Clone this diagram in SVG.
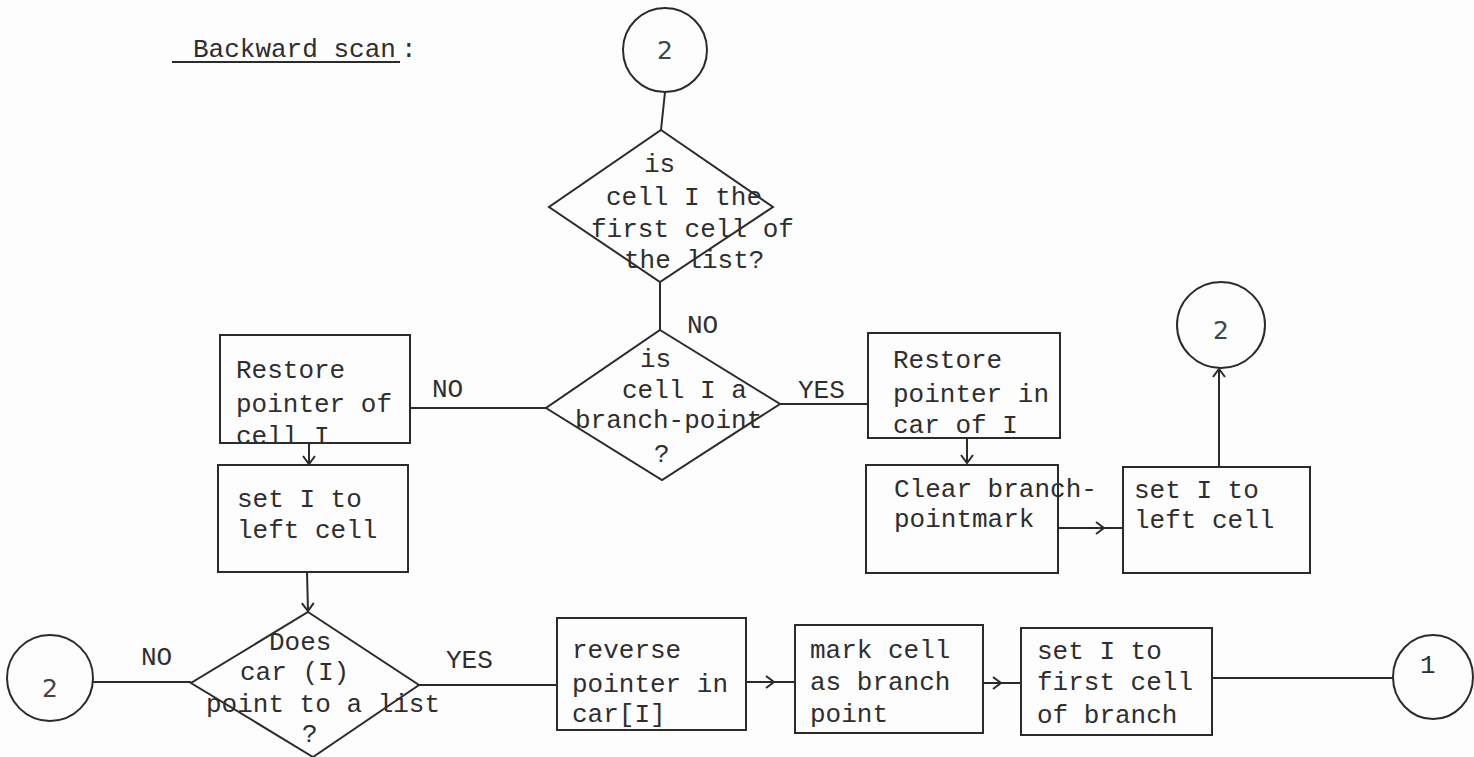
<svg xmlns="http://www.w3.org/2000/svg" width="1474" height="757" viewBox="0 0 1474 757">
<style>
.bg{fill:#fdfdfd}
.s{fill:none;stroke:#2b2b2b;stroke-width:2}
.t{font-family:"Liberation Mono",monospace;font-size:26px;fill:#2e2e2e}
.lbl{font-family:"Liberation Mono",monospace;font-size:26px;fill:#2e2e2e}
.num{font-family:"DejaVu Sans","Liberation Sans",sans-serif;font-size:25px;fill:#444;text-anchor:middle}
</style>
<defs>
<marker id="ah" markerWidth="14" markerHeight="14" refX="10" refY="7" orient="auto" markerUnits="userSpaceOnUse">
<polyline points="2,1 10,7 2,13" fill="none" stroke="#2b2b2b" stroke-width="2"/>
</marker>
</defs>
<rect class="bg" x="0" y="0" width="1474" height="757"/>

<g id="title">
<text class="t" x="193" y="57">Backward scan<tspan x="401">:</tspan></text>
<line class="s" x1="172" y1="62" x2="400" y2="62" stroke-width="2.5"/>
</g>

<g id="c2top">
<ellipse class="s" cx="665" cy="50" rx="42" ry="42"/>
<text class="num" x="665" y="59">2</text>
</g>

<g id="d1">
<polygon class="s" points="661,130 773,207 660,282 549,207"/>
<text class="t" x="644" y="172">is</text>
<text class="t" x="606" y="205">cell I the</text>
<text class="t" x="591" y="237">first cell of</text>
<text class="t" x="624" y="268">the list?</text>
</g>

<g id="d2">
<polygon class="s" points="660,330 780,404 662,480 546,408"/>
<text class="t" x="640" y="367">is</text>
<text class="t" x="622" y="398">cell I a</text>
<text class="t" x="575" y="428">branch-point</text>
<text class="t" x="654" y="462">?</text>
</g>

<g id="b_restore">
<rect class="s" x="220" y="335" width="190" height="108"/>
<text class="t" x="236" y="378">Restore</text>
<text class="t" x="236" y="412">pointer of</text>
<text class="t" x="236" y="444">cell I</text>
</g>

<g id="b_setI1">
<rect class="s" x="218" y="465" width="190" height="107"/>
<text class="t" x="237" y="507">set I to</text>
<text class="t" x="237" y="538">left cell</text>
</g>

<g id="b_restore2">
<rect class="s" x="868" y="333" width="192" height="105"/>
<text class="t" x="893" y="368">Restore</text>
<text class="t" x="893" y="402">pointer in</text>
<text class="t" x="893" y="433">car of I</text>
</g>

<g id="b_clear">
<rect class="s" x="866" y="465" width="192" height="108"/>
<text class="t" x="894" y="497">Clear branch-</text>
<text class="t" x="894" y="527">pointmark</text>
</g>

<g id="b_setI2">
<rect class="s" x="1123" y="467" width="187" height="106"/>
<text class="t" x="1134" y="498">set I to</text>
<text class="t" x="1134" y="528">left cell</text>
</g>

<g id="c2right">
<ellipse class="s" cx="1221" cy="325" rx="44" ry="43"/>
<text class="num" x="1221" y="339">2</text>
</g>

<g id="d3">
<polygon class="s" points="308,612 419,685 313,757 191,683"/>
<text class="t" x="269" y="650">Does</text>
<text class="t" x="240" y="680">car (I)</text>
<text class="t" x="206" y="712">point to a list</text>
<text class="t" x="302" y="742">?</text>
</g>

<g id="c2left">
<ellipse class="s" cx="50" cy="678" rx="43" ry="43"/>
<text class="num" x="50" y="697">2</text>
</g>

<g id="b_reverse">
<rect class="s" x="557" y="618" width="189" height="112"/>
<text class="t" x="572" y="658">reverse</text>
<text class="t" x="572" y="692">pointer in</text>
<text class="t" x="572" y="722">car[I]</text>
</g>

<g id="b_mark">
<rect class="s" x="795" y="625" width="188" height="108"/>
<text class="t" x="810" y="658">mark cell</text>
<text class="t" x="810" y="690">as branch</text>
<text class="t" x="810" y="722">point</text>
</g>

<g id="b_setI3">
<rect class="s" x="1021" y="628" width="191" height="107"/>
<text class="t" x="1037" y="659">set I to</text>
<text class="t" x="1037" y="690">first cell</text>
<text class="t" x="1037" y="723">of branch</text>
</g>

<g id="c1">
<ellipse class="s" cx="1433" cy="677" rx="40" ry="42"/>
<text class="t" x="1420" y="673">1</text>
</g>

<g id="connectors">
<line class="s" x1="665" y1="92" x2="661" y2="130"/>
<line class="s" x1="660" y1="282" x2="660" y2="330"/>
<line class="s" x1="546" y1="408" x2="410" y2="408"/>
<line class="s" x1="780" y1="404" x2="868" y2="404"/>
<line class="s" x1="309" y1="443" x2="309" y2="464" marker-end="url(#ah)"/>
<line class="s" x1="967" y1="438" x2="967" y2="463" marker-end="url(#ah)"/>
<path class="s" d="M1058,528 L1104,528 L1123,528" marker-mid="url(#ah)"/>
<line class="s" x1="1219" y1="467" x2="1219" y2="369" marker-end="url(#ah)"/>
<line class="s" x1="307" y1="572" x2="308" y2="611" marker-end="url(#ah)"/>
<line class="s" x1="191" y1="682" x2="93" y2="682"/>
<line class="s" x1="419" y1="685" x2="557" y2="685"/>
<path class="s" d="M746,682 L774,682 L795,682" marker-mid="url(#ah)"/>
<path class="s" d="M983,683 L1001,683 L1021,683" marker-mid="url(#ah)"/>
<line class="s" x1="1212" y1="678" x2="1393" y2="678"/>
<text class="lbl" x="687" y="333">NO</text>
<text class="lbl" x="432" y="397">NO</text>
<text class="lbl" x="798" y="398">YES</text>
<text class="lbl" x="141" y="665">NO</text>
<text class="lbl" x="446" y="668">YES</text>
</g>
</svg>
